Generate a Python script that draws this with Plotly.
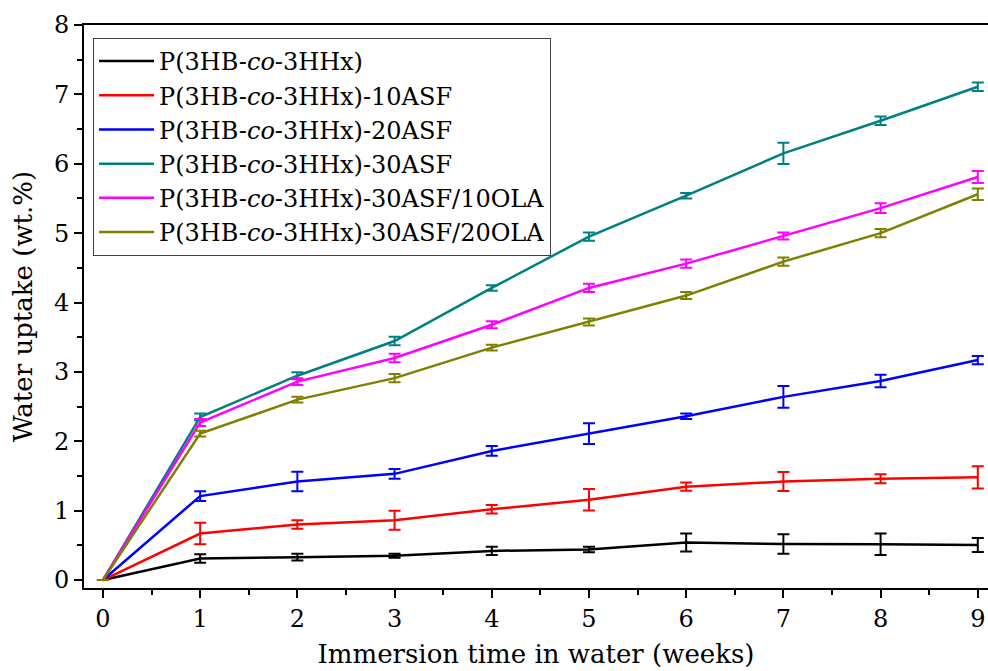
import plotly.graph_objects as go

# Immersion time (weeks)
weeks = [0, 1, 2, 3, 4, 5, 6, 7, 8, 9]

# Water uptake (wt.%) and standard deviations for each formulation
names = [
    "P(3HB-<i>co</i>-3HHx)",
    "P(3HB-<i>co</i>-3HHx)-10ASF",
    "P(3HB-<i>co</i>-3HHx)-20ASF",
    "P(3HB-<i>co</i>-3HHx)-30ASF",
    "P(3HB-<i>co</i>-3HHx)-30ASF/10OLA",
    "P(3HB-<i>co</i>-3HHx)-30ASF/20OLA",
]

neat = [0, 0.31, 0.33, 0.35, 0.42, 0.44, 0.54, 0.52, 0.515, 0.505]
neat_sd = [0, 0.06, 0.05, 0.03, 0.06, 0.04, 0.13, 0.14, 0.155, 0.10]

asf10 = [0, 0.67, 0.80, 0.86, 1.02, 1.157, 1.345, 1.42, 1.46, 1.48]
asf10_sd = [0, 0.154, 0.06, 0.137, 0.06, 0.156, 0.06, 0.137, 0.065, 0.16]

asf20 = [0, 1.21, 1.42, 1.53, 1.86, 2.11, 2.36, 2.64, 2.87, 3.17]
asf20_sd = [0, 0.07, 0.14, 0.07, 0.07, 0.15, 0.04, 0.156, 0.09, 0.06]

asf30 = [0, 2.35, 2.945, 3.445, 4.21, 4.95, 5.54, 6.15, 6.62, 7.11]
asf30_sd = [0, 0.05, 0.05, 0.06, 0.04, 0.06, 0.04, 0.154, 0.06, 0.06]

ola10 = [0, 2.27, 2.86, 3.20, 3.68, 4.21, 4.56, 4.96, 5.36, 5.81]
ola10_sd = [0, 0.05, 0.05, 0.06, 0.05, 0.06, 0.06, 0.05, 0.07, 0.087]

ola20 = [0, 2.11, 2.60, 2.91, 3.35, 3.72, 4.10, 4.59, 5.00, 5.56]
ola20_sd = [0, 0.04, 0.04, 0.06, 0.04, 0.05, 0.05, 0.06, 0.06, 0.084]

series = [neat, asf10, asf20, asf30, ola10, ola20]
errors = [neat_sd, asf10_sd, asf20_sd, asf30_sd, ola10_sd, ola20_sd]
colors = ["#000000", "#FF0000", "#0000FF", "#008080", "#FF00FF", "#808000"]

FONT = "DejaVu Serif"

fig = go.Figure()
for name, y, sd, c in zip(names, series, errors, colors):
    fig.add_trace(go.Scatter(
        x=weeks, y=y, name=name, mode="lines",
        line=dict(color=c, width=2.5),
        error_y=dict(type="data", array=sd, visible=True,
                     color=c, thickness=2, width=6),
    ))

axis_common = dict(
    showline=True, linecolor="#000000", linewidth=2,
    ticks="outside", ticklen=8, tickwidth=2, tickcolor="#000000",
    showgrid=False, zeroline=False,
    tickfont=dict(family=FONT, size=24, color="#000000"),
)

fig.update_xaxes(
    range=[-0.195, 9.105], tickvals=list(range(10)),
    mirror=True,
    minor=dict(dtick=0.5, tick0=0, ticks="outside", ticklen=5,
               tickwidth=2, tickcolor="#000000"),
    title=dict(text="Immersion time in water (weeks)", standoff=13,
               font=dict(family=FONT, size=26, color="#000000")),
    **axis_common,
)
fig.update_yaxes(
    range=[-0.115, 8], tickvals=list(range(9)),
    minor=dict(dtick=0.5, tick0=0, ticks="outside", ticklen=5,
               tickwidth=2, tickcolor="#000000"),
    title=dict(text="Water uptake (wt.%)", standoff=14,
               font=dict(family=FONT, size=26, color="#000000")),
    **axis_common,
)

fig.update_layout(
    width=988, height=671,
    margin=dict(l=84, r=0, t=25, b=83),
    plot_bgcolor="#FFFFFF", paper_bgcolor="#FFFFFF",
    showlegend=True,
    legend=dict(
        x=0.01, y=0.977, xanchor="left", yanchor="top",
        bordercolor="#404040", borderwidth=1, bgcolor="#FFFFFF",
        font=dict(family=FONT, size=24, color="#000000"),
        tracegroupgap=0, itemwidth=55,
    ),
)

fig.write_html("out.html")
